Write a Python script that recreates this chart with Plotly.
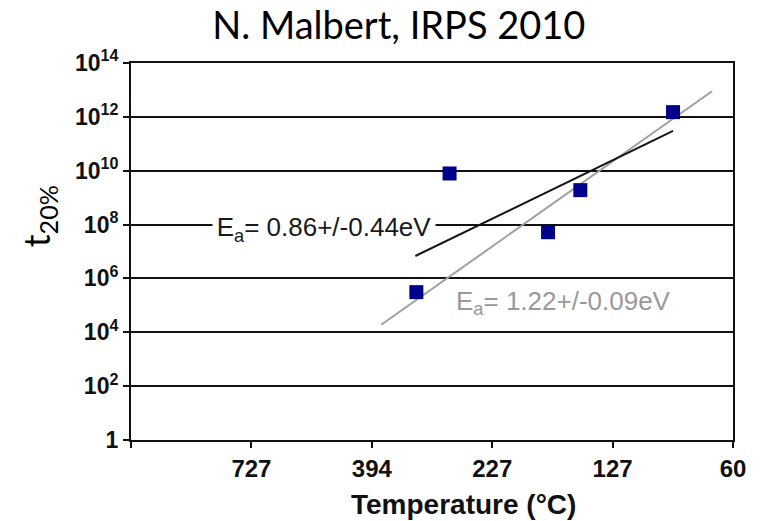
import plotly.graph_objects as go

# Data (x = 1000/T in 1/K, y = t20% in s)
inv_T = [1.685, 1.823, 2.232, 2.366, 2.751]
t20 = [3.1e5, 7.9e9, 5.2e7, 1.9e9, 1.5e12]

# Arrhenius fit lines (endpoints)
fit1_x = [1.681, 2.751]
fit1_y = [6.8e6, 3.0e11]
fit2_x = [1.539, 2.913]
fit2_y = [1.9e4, 8.9e12]

x_tickvals = [0.5, 1.0, 1.5, 2.0, 2.5, 3.0]
x_ticktext = ["", "727", "394", "227", "127", "60"]
y_tickvals = [1, 1e2, 1e4, 1e6, 1e8, 1e10, 1e12, 1e14]
y_ticktext = ["1", "10<sup>2</sup>", "10<sup>4</sup>", "10<sup>6</sup>", "10<sup>8</sup>",
              "10<sup>10</sup>", "10<sup>12</sup>", "10<sup>14</sup>"]

fig = go.Figure()
fig.add_trace(go.Scatter(x=fit2_x, y=fit2_y, mode="lines",
                         line=dict(color="#a0a0a0", width=2), showlegend=False))
fig.add_trace(go.Scatter(x=fit1_x, y=fit1_y, mode="lines",
                         line=dict(color="#151515", width=2), showlegend=False))
fig.add_trace(go.Scatter(x=inv_T, y=t20, mode="markers",
                         marker=dict(symbol="square", size=14, color="#00008B",
                                     line=dict(width=0)),
                         showlegend=False))

tick_font = dict(family="Liberation Sans, Arial, sans-serif", size=24, color="#111111", weight="bold")

fig.update_layout(
    width=764, height=521,
    margin=dict(l=131, r=31, t=63, b=81),
    paper_bgcolor="white", plot_bgcolor="white",
    title=dict(text="N. Malbert, IRPS 2010", x=0.522, xref="container", xanchor="center",
               y=1 - 26 / 521, yref="container", yanchor="middle",
               font=dict(family="Lato, Carlito, sans-serif", size=38, color="black")),
    xaxis=dict(range=[0.5, 3.0], tickvals=x_tickvals, ticktext=x_ticktext,
               showgrid=False, zeroline=False,
               showline=True, linecolor="#111111", linewidth=2, mirror=True,
               ticks="outside", ticklen=6, tickwidth=2, tickcolor="#111111",
               tickfont=tick_font),
    yaxis=dict(type="log", range=[0, 14], tickvals=y_tickvals, ticktext=y_ticktext,
               showgrid=True, gridcolor="#111111", gridwidth=2, zeroline=False,
               showline=True, linecolor="#111111", linewidth=2, mirror=True,
               ticks="outside", ticklen=6, tickwidth=2, tickcolor="#111111",
               tickfont=dict(family="Liberation Sans, Arial, sans-serif", size=23,
                             color="#111111", weight="bold")),
    annotations=[
        dict(text="E<sub>a</sub>= 0.86+/-0.44eV", xref="paper", yref="paper",
             x=0.320, y=0.559, xanchor="center", yanchor="middle", showarrow=False,
             bgcolor="white", borderpad=0, height=26, width=222,
             font=dict(family="Liberation Sans, Arial, sans-serif", size=26, color="#1a1a1a")),
        dict(text="E<sub>a</sub>= 1.22+/-0.09eV", xref="paper", yref="paper",
             x=0.719, y=0.366, xanchor="center", yanchor="middle", showarrow=False,
             font=dict(family="Liberation Sans, Arial, sans-serif", size=26, color="#999999")),
        dict(text="Temperature (°C)", xref="paper", yref="paper",
             x=0.552, y=-0.17, xanchor="center", yanchor="middle", showarrow=False,
             font=dict(family="Liberation Sans, Arial, sans-serif", size=28, color="#111111",
                       weight="bold")),
        dict(text="t<sub>20%</sub>", xref="paper", yref="paper", textangle=-90,
             x=-0.154, y=0.594, xanchor="center", yanchor="middle", showarrow=False,
             font=dict(family="Lato, Carlito, sans-serif", size=36, color="black")),
    ],
)

fig.write_html("out.html")
